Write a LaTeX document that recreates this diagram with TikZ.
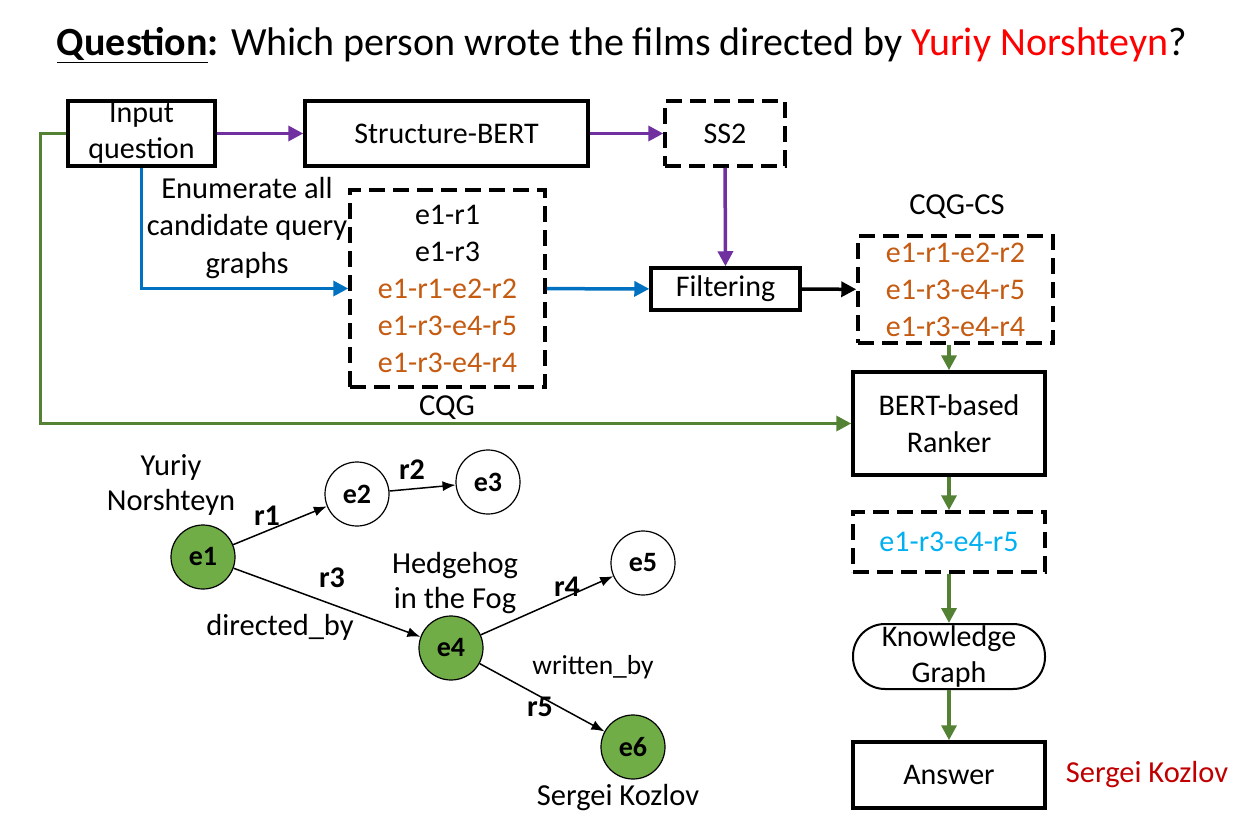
\documentclass[tikz,border=0pt]{standalone}
\usepackage{fontspec}
\setmainfont{Carlito}
\usetikzlibrary{arrows.meta}
\definecolor{qpurple}{HTML}{7030A0}
\definecolor{qblue}{HTML}{0070C0}
\definecolor{qgreen}{HTML}{548235}
\definecolor{entgreen}{HTML}{70AD47}
\definecolor{qorange}{HTML}{C55A11}
\definecolor{qsky}{HTML}{00B0F0}
\definecolor{qred}{HTML}{C00000}

\begin{document}
\begin{tikzpicture}[x=1pt,y=-1pt,
    box/.style={draw,line width=3.5pt,align=center,inner sep=0pt,
      font=\fontsize{30}{36.5}\selectfont},
    dbox/.style={box,dash pattern=on 16pt off 8pt},
    lbl/.style={align=center,inner sep=0pt,font=\fontsize{30.5}{36.5}\selectfont},
    ent/.style={circle,draw,line width=1.2pt,minimum size=64pt,inner sep=0pt,
      font=\fontsize{28}{30}\selectfont\bfseries},
    rel/.style={inner sep=0pt,font=\fontsize{30}{32}\selectfont\bfseries},
    flow/.style={line width=3.5pt,-{Triangle[length=15pt,width=15pt]}},
    edge/.style={line width=1.5pt,-{Latex[length=13pt,width=10pt]}}]
  \useasboundingbox (0,0) rectangle (1252,816);

  % Frage
  \node[inner sep=0pt,font=\fontsize{40}{46}\selectfont] (title) at (622,45)
    {\underline{\textbf{Question}}\textbf{:} Which person wrote the films directed by \textcolor{red}{Yuriy Norshteyn}?};

  % Kaesten
  \node[box,minimum width=147pt,minimum height=65pt] (inq) at (141.5,133.5) {Input\\question};
  \node[box,minimum width=283pt,minimum height=65pt] (sbert) at (446.5,133.5) {Structure-BERT};
  \node[dbox,minimum width=120pt,minimum height=65pt] (ss2) at (725,133.5) {SS2};
  \node[box,minimum width=149pt,minimum height=42pt] (filt) at (725.5,289) {Filtering};
  \node[dbox,minimum width=195pt,minimum height=197pt,font=\fontsize{30}{37}\selectfont] (cqg) at (447.5,288.5)
    {e1-r1\\e1-r3\\\textcolor{qorange}{e1-r1-e2-r2}\\\textcolor{qorange}{e1-r3-e4-r5}\\\textcolor{qorange}{e1-r3-e4-r4}};
  \node[dbox,minimum width=195pt,minimum height=107pt,text=qorange,font=\fontsize{30}{37}\selectfont] (cqgcs) at (955.5,289.5)
    {e1-r1-e2-r2\\e1-r3-e4-r5\\e1-r3-e4-r4};
  \node[box,minimum width=192pt,minimum height=103pt] (rank) at (949,423.5) {BERT-based\\Ranker};
  \node[dbox,minimum width=192pt,minimum height=60pt,text=qsky] (res) at (949,542) {e1-r3-e4-r5};
  \node[box,line width=2pt,rounded corners=32pt,minimum width=192pt,minimum height=65pt] (kg) at (949,656.5) {Knowledge\\Graph};
  \node[box,minimum width=192pt,minimum height=66pt] (ans) at (949,775) {Answer};

  % Beschriftungen
  \node[lbl] (cqglbl) at (447,408) {CQG};
  \node[lbl] (cslbl) at (957,207) {CQG-CS};
  \node[lbl,font=\fontsize{30.5}{37.5}\selectfont] (enum) at (247,228) {Enumerate all\\candidate query\\graphs};
  \node[lbl,text=qred] (kozlov) at (1147,775) {Sergei Kozlov};

  % Pfeile
  \draw[flow,qpurple] (inq) -- (sbert);
  \draw[flow,qpurple] (sbert) -- (ss2);
  \draw[flow,qpurple] (ss2) -- (filt);
  \draw[flow,qblue] (inq.south) |- (cqg.west);
  \draw[flow,qblue] (cqg) -- (filt);
  \draw[flow,black] (filt) -- (cqgcs);
  \draw[flow,qgreen] (rank.north |- cqgcs.south) -- (rank.north);
  \draw[flow,qgreen] (inq.west) -- ++(-26,0) |- (rank.west);
  \draw[flow,qgreen] (rank) -- (res);
  \draw[flow,qgreen] (res) -- (kg);
  \draw[flow,qgreen] (kg) -- (ans);

  % Teilgraph
  \node[ent,fill=entgreen] (e1) at (203,557) {e1};
  \node[ent] (e2) at (357,494) {e2};
  \node[ent] (e3) at (488,482) {e3};
  \node[ent,fill=entgreen] (e4) at (451,648) {e4};
  \node[ent] (e5) at (643,563) {e5};
  \node[ent,fill=entgreen] (e6) at (633,747) {e6};

  \draw[edge] (e1) -- (e2);
  \draw[edge] (e2) -- (e3);
  \draw[edge] (e1) -- (e4);
  \draw[edge] (e4) -- (e5);
  \draw[edge] (e4) -- (e6);

  \node[lbl,font=\fontsize{30.5}{35}\selectfont] (yuriy) at (171,485) {Yuriy\\Norshteyn};
  \node[rel] (r1) at (267,516) {r1};
  \node[rel] (r2) at (412,470) {r2};
  \node[rel] (r3) at (332,578) {r3};
  \node[lbl] (dirby) at (280,627) {directed\_by};
  \node[lbl,font=\fontsize{30.5}{35.5}\selectfont] (hedge) at (455,583) {Hedgehog\\in the Fog};
  \node[rel] (r4) at (567,587) {r4};
  \node[lbl,font=\fontsize{27.5}{30}\selectfont] (wrby) at (593,667) {written\_by};
  \node[rel] (r5) at (540,707) {r5};
  \node[lbl] (sergei) at (618,798) {Sergei Kozlov};
\end{tikzpicture}
\end{document}
